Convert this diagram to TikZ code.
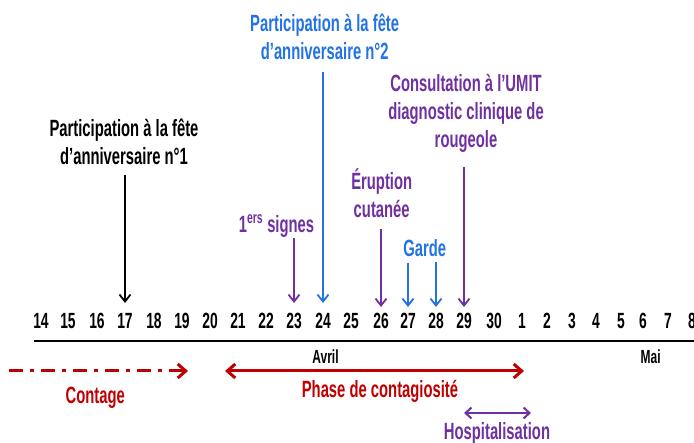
\documentclass[tikz,border=0pt]{standalone}
\usepackage{fontspec}
\setmainfont{Liberation Sans}[FakeStretch=0.63]
\usetikzlibrary{arrows.meta}
\definecolor{cblue}{RGB}{35,115,230}
\definecolor{cpurple}{RGB}{112,48,160}
\definecolor{cred}{RGB}{192,0,0}
\begin{document}
\begin{tikzpicture}[x=1pt,y=-1pt,
  lbl/.style={font=\bfseries\fontsize{23.5}{28}\selectfont, align=center, inner sep=0pt, anchor=base},
  num/.style={font=\bfseries\fontsize{22}{26}\selectfont, inner sep=0pt, anchor=base},
  month/.style={font=\bfseries\fontsize{19}{22}\selectfont, inner sep=0pt, anchor=base},
  varrow/.style={line width=1.8pt, -{Straight Barb[length=7pt,width=11pt,line width=1.8pt]}},
  harrow/.style={line width=3pt, -{Straight Barb[length=8pt,width=14pt,line width=3pt]}},
  hharrow/.style={line width=3pt, {Straight Barb[length=8pt,width=14pt,line width=3pt]}-{Straight Barb[length=8pt,width=14pt,line width=3pt]}}
]
\useasboundingbox (0,0) rectangle (694,443);

% day numbers
\foreach \d/\x in {14/41,15/68,16/97,17/125,18/154,19/182,20/210,21/238,22/266,23/294,24/323,25/351,26/381,27/408,28/436,29/464,30/494,1/522,2/547,3/572,4/596,5/621,6/643,7/668,8/692}
  \node[num] (d\d) at (\x,329) {\d};

% timeline
\coordinate (tlA) at (34,341.5);
\coordinate (tlB) at (694,341.5);
\draw[line width=2pt] (tlA) -- (tlB);

\node[month] (avril) at (325.5,364) {Avril};
\node[month] (mai) at (650.7,364) {Mai};

% vertical arrow tips
\coordinate (t17) at (125,303);
\coordinate (t23) at (294,303);
\coordinate (t24) at (323,303);
\coordinate (t26) at (381,307);
\coordinate (t27) at (408,307);
\coordinate (t28) at (436,307);
\coordinate (t29) at (464,307);

% labels (anchor base = baseline of last line)
\node[lbl] (fete1) at (124,165) {Participation à la fête\\d’anniversaire n°1};
\node[lbl, text=cblue] (fete2) at (324.7,60) {Participation à la fête\\d’anniversaire n°2};
\node[lbl, text=cpurple] (umit) at (466,148) {Consultation à l’UMIT\\diagnostic clinique de\\rougeole};
\node[lbl, text=cpurple] (signes) at (276.5,233) {1\textsuperscript{ers} signes};
\node[lbl, text=cpurple] (erupt) at (381.7,218) {Éruption\\cutanée};
\node[lbl, text=cblue] (garde) at (424.7,257) {Garde};

% arrow starts
\coordinate (s17) at (125,175);
\coordinate (s23) at (294,238);
\coordinate (s24) at (323,72);
\coordinate (s26) at (381,229);
\coordinate (s27) at (408,263);
\coordinate (s28) at (436,262);
\coordinate (s29) at (464,167);

\draw[varrow, black, line width=1.4pt] (s17) -- (t17);
\draw[varrow, cpurple] (s23) -- (t23);
\draw[varrow, cblue] (s24) -- (t24);
\draw[varrow, cpurple] (s26) -- (t26);
\draw[varrow, cblue] (s27) -- (t27);
\draw[varrow, cblue] (s28) -- (t28);
\draw[varrow, cpurple] (s29) -- (t29);

% horizontal arrows
\coordinate (c0) at (9,371);
\coordinate (c1) at (188,371);
\draw[harrow, cred, dash pattern=on 14pt off 7pt on 4pt off 7pt] (c0) -- (c1);
\node[lbl, text=cred] (contage) at (95.3,404) {Contage};

\coordinate (p0) at (225,371);
\coordinate (p1) at (524,371);
\draw[hharrow, cred] (p0) -- (p1);
\node[lbl, text=cred] (phase) at (380,398) {Phase de contagiosité};

\coordinate (h0) at (464,413);
\coordinate (h1) at (531,413);
\draw[cpurple, line width=2pt, {Straight Barb[length=6pt,width=11pt,line width=2pt]}-{Straight Barb[length=6pt,width=11pt,line width=2pt]}] (h0) -- (h1);
\node[lbl, text=cpurple] (hosp) at (497,440) {Hospitalisation};
\end{tikzpicture}
\end{document}
